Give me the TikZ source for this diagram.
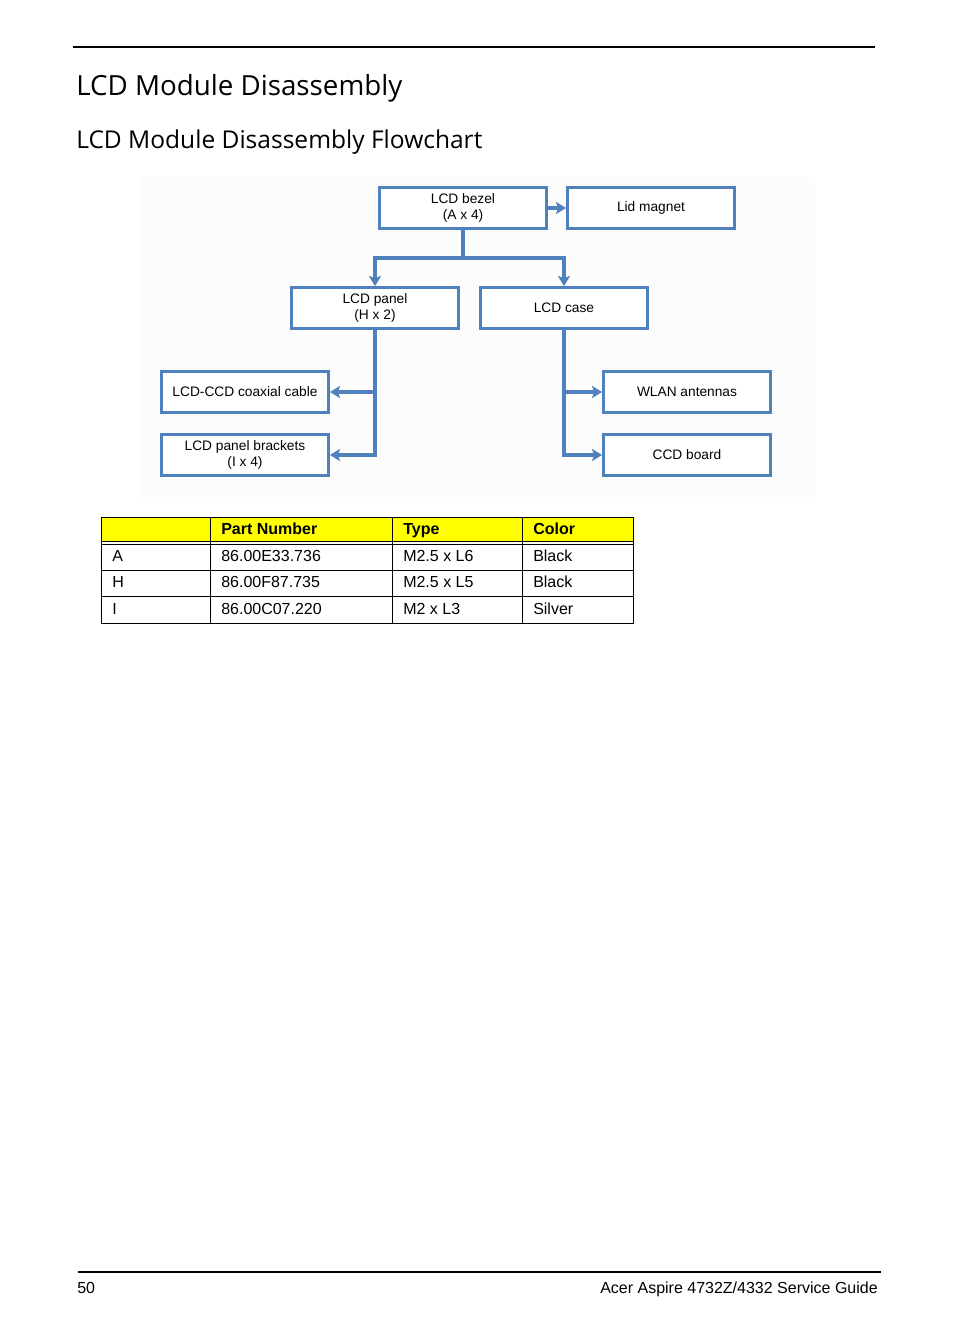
\documentclass[tikz,border=0pt]{standalone}
\usepackage{fontspec}
\setmainfont{Liberation Sans}
\newfontfamily\headfont{Open Sans}
\usetikzlibrary{shapes,arrows.meta,positioning,calc}
\definecolor{boxblue}{RGB}{79,129,189}
\definecolor{hdryellow}{RGB}{255,255,0}

\begin{document}
\begin{tikzpicture}[x=0.75pt, y=-0.75pt,
    part/.style={rectangle, draw=boxblue, line width=2.4pt, fill=white, minimum width=125pt, minimum height=30.5pt, align=center, inner sep=0pt, font=\fontsize{10.3}{11.5}\selectfont},
    link/.style={draw=boxblue, line width=2.8pt},
    arrow/.style={link, -{Stealth[length=7.5pt, width=9pt, inset=1.5pt]}},
    cell/.style={anchor=base west, inner sep=0pt, font=\fontsize{12}{14}\selectfont},
    rule/.style={line width=0.8pt},
    grid/.style={line width=0.55pt}
]
\useasboundingbox (0,0) rectangle (954,1336);

% Page head
\draw[rule] (73,47) -- (875,47);
\node[anchor=west, inner sep=0pt, font=\headfont\fontsize{20.8}{24}\selectfont] (title) at (76,88) {LCD Module Disassembly};
\node[anchor=west, inner sep=0pt, font=\headfont\fontsize{18.4}{22}\selectfont] (subtitle) at (76,142) {LCD Module Disassembly Flowchart};

% faint backdrop of the flowchart
\fill[black!1] (141,177) rectangle (815,497);

% Flowchart boxes
\node[part] (bezel) at (463,208) {LCD bezel\\(A x 4)};
\node[part] (magnet) at (651,208) {Lid magnet};
\node[part] (panel) at (375,308) {LCD panel\\(H x 2)};
\node[part] (case) at (564,308) {LCD case};
\node[part] (coax) at (245,392) {LCD-CCD coaxial cable};
\node[part] (brackets) at (245,455) {LCD panel brackets\\(I x 4)};
\node[part] (wlan) at (687,392) {WLAN antennas};
\node[part] (ccd) at (687,455) {CCD board};

\coordinate (split) at (463,258);

% Connectors
\draw[arrow] (bezel) -- (magnet);
\draw[link] (bezel) -- (split);
\draw[arrow] (split) -| (panel.north);
\draw[arrow] (split) -| (case.north);
\draw[arrow] (panel.south) |- (coax.east);
\draw[arrow] (panel.south) |- (brackets.east);
\draw[arrow] (case.south) |- (wlan.west);
\draw[arrow] (case.south) |- (ccd.west);

% Screw table
\fill[hdryellow] (101,517) rectangle (633,541);
\draw[grid] (101,517) rectangle (633,623);
\foreach \xx in {210,392,522}
    \draw[grid] (\xx,517) -- (\xx,623);
\foreach \yy in {541,544,570,596}
    \draw[grid] (101,\yy) -- (633,\yy);

\node[cell, font=\bfseries\fontsize{12}{14}\selectfont] (hpart) at (221,534) {Part Number};
\node[cell, font=\bfseries\fontsize{12}{14}\selectfont] (htype) at (403,534) {Type};
\node[cell, font=\bfseries\fontsize{12}{14}\selectfont] (hcolor) at (533,534) {Color};

\foreach \tag/\pn/\typ/\col [count=\r] in {A/86.00E33.736/M2.5 x L6/Black, H/86.00F87.735/M2.5 x L5/Black, I/86.00C07.220/M2 x L3/Silver} {
    \node[cell] (tag\r) at (112,{561.5+26.3*(\r-1)}) {\tag};
    \node[cell] (pn\r) at (221,{561.5+26.3*(\r-1)}) {\pn};
    \node[cell] (typ\r) at (403,{561.5+26.3*(\r-1)}) {\typ};
    \node[cell] (col\r) at (533,{561.5+26.3*(\r-1)}) {\col};
}

% Page foot
\draw[rule] (78,1272) -- (881,1272);
\node[cell] (pageno) at (77,1293) {50};
\node[cell, anchor=base east] (guide) at (878,1293) {Acer Aspire 4732Z/4332 Service Guide};

\end{tikzpicture}
\end{document}
